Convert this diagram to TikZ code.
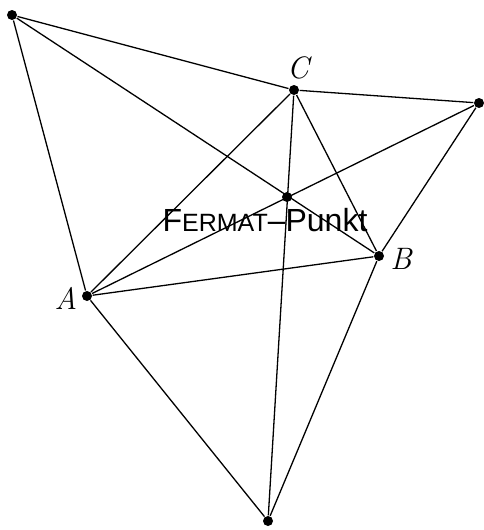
\documentclass[tikz,border=0pt]{standalone}
\usepackage{fontspec}
\newfontfamily\fermatfont{Liberation Sans}
\usetikzlibrary{positioning}

\begin{document}
\begin{tikzpicture}[x=1pt,y=-1pt,line width=1.3pt,
 pt/.style={circle,fill=black,inner sep=0pt,minimum size=10pt},
 lbl/.style={font=\fontsize{31}{31}\selectfont\itshape,inner sep=0pt}]
 \useasboundingbox (0,0) rectangle (483,530);
 % points
 \node[pt] (P) at (12,15) {};
 \node[pt] (C) at (294,90) {};
 \node[pt] (Q) at (479,103) {};
 \node[pt] (F) at (287,197) {};
 \node[pt] (B) at (379,256) {};
 \node[pt] (A) at (87,296) {};
 \node[pt] (R) at (268,521) {};
 % outer hexagon
 \draw (P) -- (C) -- (Q) -- (B) -- (R) -- (A) -- (P);
 % triangle
 \draw (A) -- (B) -- (C) -- (A);
 % lines through the Fermat point
 \draw (P) -- (B);
 \draw (Q) -- (A);
 \draw (C) -- (R);
 % labels
 \node[lbl] (lA) at (66,298) {A};
 \node[lbl] (lB) at (401,259) {B};
 \node[lbl] (lC) at (298,68) {C};
 \node[anchor=base,inner sep=0pt] (lF) at (265,231)
  {\fermatfont\fontsize{32}{32}\selectfont F\fontsize{25}{25}\selectfont ERMAT\fontsize{32}{32}\selectfont –Punkt};
\end{tikzpicture}
\end{document}
